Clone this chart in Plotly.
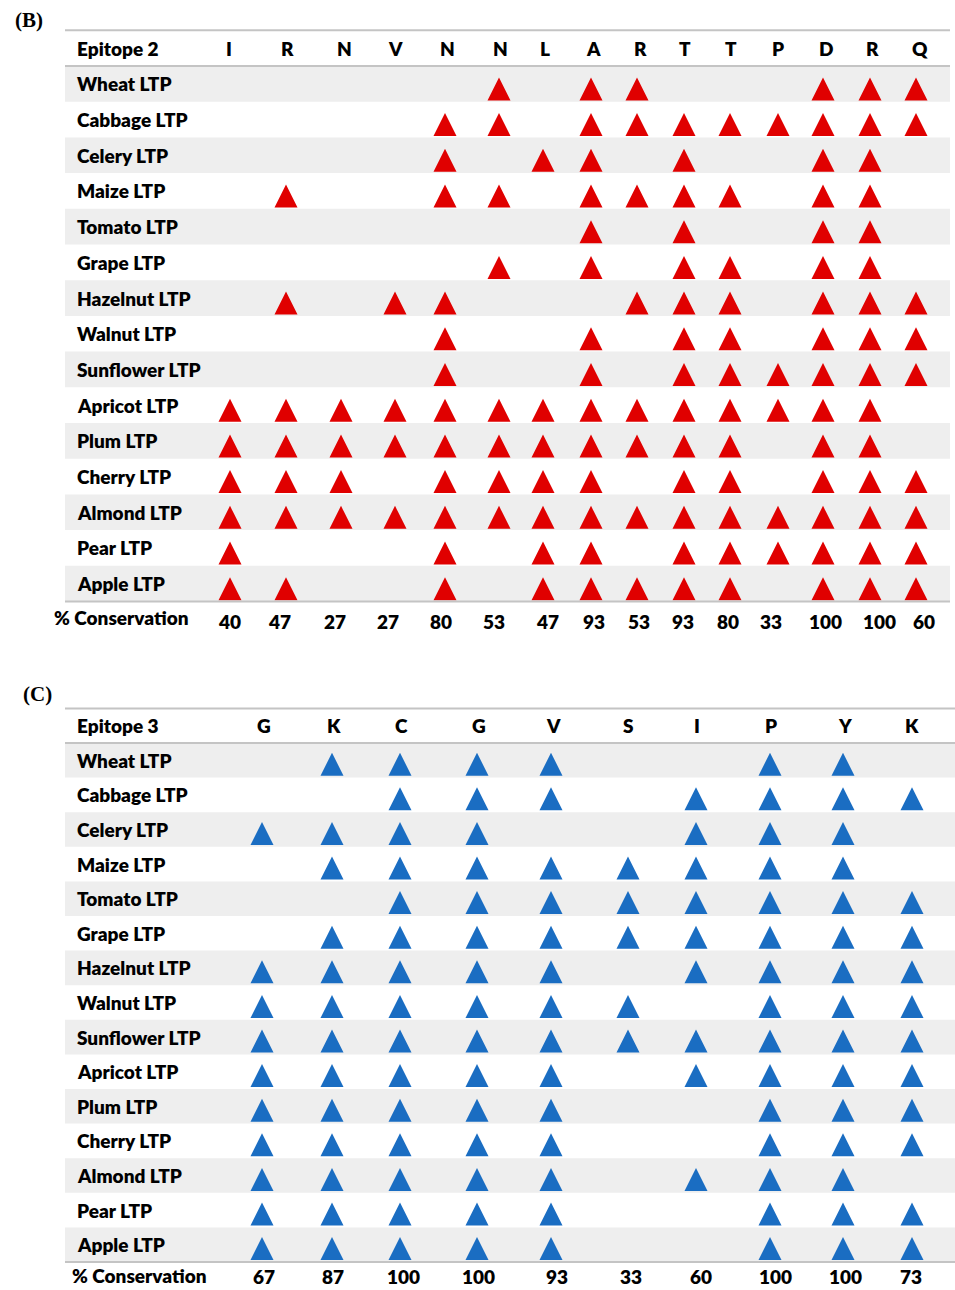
import plotly.graph_objects as go

# ---------------- data ----------------
species = ["Wheat LTP", "Cabbage LTP", "Celery LTP", "Maize LTP", "Tomato LTP",
           "Grape LTP", "Hazelnut LTP", "Walnut LTP", "Sunflower LTP", "Apricot LTP",
           "Plum LTP", "Cherry LTP", "Almond LTP", "Pear LTP", "Apple LTP"]

epitope2_residues = ["I", "R", "N", "V", "N", "N", "L", "A", "R", "T", "T", "P", "D", "R", "Q"]
epitope2_conservation = [40, 47, 27, 27, 80, 53, 47, 93, 53, 93, 80, 33, 100, 100, 60]
# indices of residues conserved, per species (panel B)
epitope2_present = [
    [5, 7, 8, 12, 13, 14],                         # Wheat
    [4, 5, 7, 8, 9, 10, 11, 12, 13, 14],           # Cabbage
    [4, 6, 7, 9, 12, 13],                          # Celery
    [1, 4, 5, 7, 8, 9, 10, 12, 13],                # Maize
    [7, 9, 12, 13],                                # Tomato
    [5, 7, 9, 10, 12, 13],                         # Grape
    [1, 3, 4, 8, 9, 10, 12, 13, 14],               # Hazelnut
    [4, 7, 9, 10, 12, 13, 14],                     # Walnut
    [4, 7, 9, 10, 11, 12, 13, 14],                 # Sunflower
    [0, 1, 2, 3, 4, 5, 6, 7, 8, 9, 10, 11, 12, 13],  # Apricot
    [0, 1, 2, 3, 4, 5, 6, 7, 8, 9, 10, 12, 13],    # Plum
    [0, 1, 2, 4, 5, 6, 7, 9, 10, 12, 13, 14],      # Cherry
    [0, 1, 2, 3, 4, 5, 6, 7, 8, 9, 10, 11, 12, 13, 14],  # Almond
    [0, 4, 6, 7, 9, 10, 11, 12, 13, 14],           # Pear
    [0, 1, 4, 6, 7, 8, 9, 10, 12, 13, 14],         # Apple
]

epitope3_residues = ["G", "K", "C", "G", "V", "S", "I", "P", "Y", "K"]
epitope3_conservation = [67, 87, 100, 100, 93, 33, 60, 100, 100, 73]
epitope3_present = [
    [1, 2, 3, 4, 7, 8],                 # Wheat
    [2, 3, 4, 6, 7, 8, 9],              # Cabbage
    [0, 1, 2, 3, 6, 7, 8],              # Celery
    [1, 2, 3, 4, 5, 6, 7, 8],           # Maize
    [2, 3, 4, 5, 6, 7, 8, 9],           # Tomato
    [1, 2, 3, 4, 5, 6, 7, 8, 9],        # Grape
    [0, 1, 2, 3, 4, 6, 7, 8, 9],        # Hazelnut
    [0, 1, 2, 3, 4, 5, 7, 8, 9],        # Walnut
    [0, 1, 2, 3, 4, 5, 6, 7, 8, 9],     # Sunflower
    [0, 1, 2, 3, 4, 6, 7, 8, 9],        # Apricot
    [0, 1, 2, 3, 4, 7, 8, 9],           # Plum
    [0, 1, 2, 3, 4, 7, 8, 9],           # Cherry
    [0, 1, 2, 3, 4, 6, 7, 8],           # Almond
    [0, 1, 2, 3, 4, 7, 8, 9],           # Pear
    [0, 1, 2, 3, 4, 7, 8, 9],           # Apple
]

# ---------------- layout constants ----------------
W, H = 955, 1290
FONT = "Lato"
FS = 19
FW = 800
RED = "#E00000"
BLUE = "#1A6DC2"
BAND = "#EEEEEE"
LINE = "#C4C4C4"

colx_B = [230, 286, 341, 395, 445, 499, 543, 591, 637, 684, 730, 778, 823, 870, 916]
hdrx_B = [229, 287, 344, 395, 447, 500, 545, 593, 640, 685, 731, 778, 826, 872, 920]
consx_B = [229, 279, 335, 388, 441, 494, 547, 594, 639, 683, 728, 771, 825, 879, 924]

colx_C = [262, 332, 400, 477, 551, 628, 696, 770, 843, 912]
hdrx_C = [264, 334, 401, 479, 553, 628, 697, 771, 845, 912]
consx_C = [264, 333, 403, 478, 557, 631, 701, 775, 845, 911]

panels = [
    dict(px0=66, rh=35.7, yr=(-1.6, 16.2), xl=65, xr=950, label="(B)", lab_x=29, lab_px=20,
         title="Epitope 2", res=epitope2_residues, cons=epitope2_conservation,
         pres=epitope2_present, colx=colx_B, hdrx=hdrx_B, consx=consx_B,
         color=RED, apex=0.32, cons_lab_x=52, cons_y=(0.45, 0.55)),
    dict(px0=743, rh=34.6, yr=(-1.6, 15.8), xl=65, xr=955, label="(C)", lab_x=37, lab_px=694,
         title="Epitope 3", res=epitope3_residues, cons=epitope3_conservation,
         pres=epitope3_present, colx=colx_C, hdrx=hdrx_C, consx=consx_C,
         color=BLUE, apex=0.28, cons_lab_x=70, cons_y=(0.38, 0.42)),
]


def tfont(size=FS):
    return dict(family=FONT, size=size, color="black", weight=FW)


fig = go.Figure()
shapes = []
annotations = []
layout_axes = {}

for k, p in enumerate(panels):
    xa = "x" if k == 0 else "x2"
    ya = "y" if k == 0 else "y2"
    xkey = "xaxis" if k == 0 else "xaxis2"
    ykey = "yaxis" if k == 0 else "yaxis2"
    top_px = p["px0"] + p["rh"] * p["yr"][0]
    bot_px = p["px0"] + p["rh"] * p["yr"][1]
    layout_axes[xkey] = dict(range=[0, W], domain=[0, 1], visible=False, fixedrange=True,
                             anchor=ya)
    layout_axes[ykey] = dict(range=[p["yr"][1], p["yr"][0]],
                             domain=[1 - bot_px / H, 1 - top_px / H],
                             visible=False, fixedrange=True, anchor=xa)

    n = len(species)
    # alternating bands
    for i in range(0, n, 2):
        shapes.append(dict(type="rect", xref=xa, yref=ya, x0=p["xl"], x1=p["xr"],
                           y0=i, y1=i + 1, fillcolor=BAND, line=dict(width=0), layer="below"))
    # rules
    for yv in (-1, 0, n):
        shapes.append(dict(type="line", xref=xa, yref=ya, x0=p["xl"], x1=p["xr"],
                           y0=yv, y1=yv, line=dict(color=LINE, width=2)))

    # triangles
    xs, ys = [], []
    for i, cols in enumerate(p["pres"]):
        for c in cols:
            xs.append(p["colx"][c])
            ys.append(i + p["apex"])
    fig.add_trace(go.Scatter(x=xs, y=ys, mode="markers", xaxis=xa, yaxis=ya,
                             marker=dict(symbol="arrow-up", size=23, color=p["color"],
                                         line=dict(width=0)),
                             hoverinfo="skip", showlegend=False))

    # panel label
    annotations.append(dict(xref=xa, yref=ya, x=p["lab_x"],
                            y=(p["lab_px"] - p["px0"]) / p["rh"],
                            text="<b>" + p["label"] + "</b>", showarrow=False,
                            font=dict(family="Liberation Serif", size=21, color="black"),
                            xanchor="center", yanchor="middle"))
    # header
    annotations.append(dict(xref=xa, yref=ya, x=75, y=-0.5, text=p["title"],
                            showarrow=False, xanchor="left", yanchor="middle",
                            font=tfont()))
    for j, r in enumerate(p["res"]):
        annotations.append(dict(xref=xa, yref=ya, x=p["hdrx"][j], y=-0.5, text=r,
                                showarrow=False, xanchor="center", yanchor="middle",
                                font=tfont()))
    # row labels
    for i, s in enumerate(species):
        annotations.append(dict(xref=xa, yref=ya, x=75, y=i + 0.5, text=s,
                                showarrow=False, xanchor="left", yanchor="middle",
                                font=tfont()))
    # conservation row
    annotations.append(dict(xref=xa, yref=ya, x=p["cons_lab_x"], y=n + p["cons_y"][0],
                            text="% Conservation", showarrow=False,
                            xanchor="left", yanchor="middle", font=tfont()))
    for j, v in enumerate(p["cons"]):
        annotations.append(dict(xref=xa, yref=ya, x=p["consx"][j], y=n + p["cons_y"][1],
                                text=str(v), showarrow=False,
                                xanchor="center", yanchor="middle", font=tfont()))

fig.update_layout(width=W, height=H, margin=dict(l=0, r=0, t=0, b=0),
                  paper_bgcolor="white", plot_bgcolor="rgba(0,0,0,0)",
                  shapes=shapes, annotations=annotations, showlegend=False,
                  **layout_axes)

fig.write_html("out.html", config={"displayModeBar": False},
               post_script="document.body.style.margin='0';document.body.style.overflow='hidden';")
